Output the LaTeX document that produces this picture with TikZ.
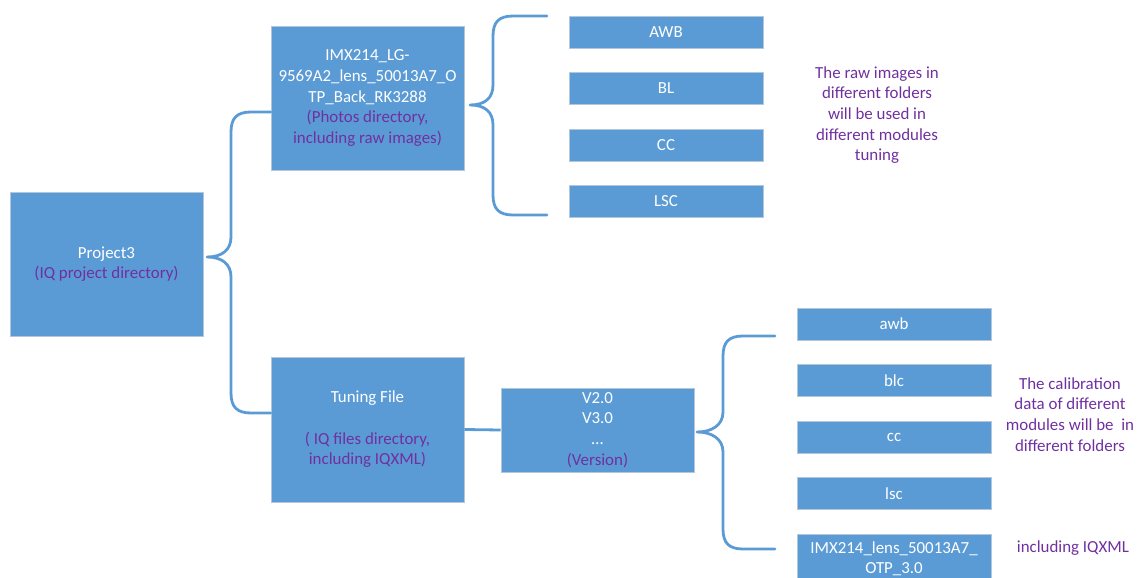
\documentclass[tikz,border=0pt]{standalone}
\usepackage{fontspec}
\setmainfont{Carlito}
\definecolor{boxblue}{HTML}{5B9BD5}
\definecolor{brblue}{HTML}{5B9BD5}
\definecolor{purp}{HTML}{7030A0}
\definecolor{edge}{HTML}{B4C6DA}
\tikzset{
  box/.style={rectangle, fill=boxblue, draw=edge, line width=0.8pt, text=white,
    inner sep=0pt, align=center, font=\fontsize{16.9}{20.7}\selectfont},
  bigbox/.style={box, minimum width=193pt, minimum height=144pt},
  smallbox/.style={box, minimum width=194pt, minimum height=32pt},
  note/.style={text=purp, align=center, inner sep=0pt, font=\fontsize{16.9}{20.7}\selectfont},
  brace/.style={draw=brblue, line width=2.8pt, line cap=round, line join=round},
}
\begin{document}
\begin{tikzpicture}[x=1pt,y=-1pt]
\useasboundingbox (0,0) rectangle (1143,578);
\clip (0,0) rectangle (1143,578);
% main boxes
\node[bigbox] (proj) at (106.5,264) {Project3\\\textcolor{purp}{(IQ project directory)}};
\node[bigbox] (photos) at (367.5,98) {IMX214\_LG-\\9569A2\_lens\_50013A7\_O\\TP\_Back\_RK3288\\\textcolor{purp}{(Photos directory,}\\\textcolor{purp}{including raw images)}};
\node[bigbox, minimum height=145pt] (tuning) at (367.5,429.5) {Tuning File\\[20.7pt]\textcolor{purp}{( IQ files directory,}\\\textcolor{purp}{including IQXML)}};
\node[box, minimum width=193pt, minimum height=84pt] (ver) at (597.5,430) {V2.0\\V3.0\\\dots\\\textcolor{purp}{(Version)}};
% raw image folders
\node[smallbox] (AWB) at (666,32) {AWB};
\node[smallbox] (BL) at (666,88.5) {BL};
\node[smallbox] (CC) at (666,145) {CC};
\node[smallbox] (LSC) at (666,201.5) {LSC};
% calibration folders
\node[smallbox] (awb) at (894,324) {awb};
\node[smallbox] (blc) at (894,380.5) {blc};
\node[smallbox] (cc) at (894,437.5) {cc};
\node[smallbox] (lsc) at (894,493.5) {lsc};
\node[smallbox, minimum height=49pt, anchor=north] (imx) at (894,534) {IMX214\_lens\_50013A7\_\\OTP\_3.0};
% notes
\node[note] (rawnote) at (877,115) {The raw images in\\different folders\\will be used in\\different modules\\tuning};
\node[note] (calnote) at (1070,414.5) {The calibration\\data of different\\modules will be\ \ in\\different folders};
\node[note] (iqnote) at (1073,548) {including IQXML};
% brace coordinates
\coordinate (t1) at (207,257);
\coordinate (t2) at (470,105);
\coordinate (t3) at (697,432);
% brace 1: project -> photos / tuning
\draw[brace] (photos.west |- 0,112) -- (251,112) .. controls (237,112) and (231,118) .. (231,132)
  -- (231,237) .. controls (231,250) and (222,257) .. (t1)
  .. controls (222,257) and (231,264) .. (231,277)
  -- (231,393) .. controls (231,407) and (237,413) .. (251,413) -- (tuning.west |- 0,413);
% brace 2: photos -> folders
\draw[brace] (547,16) -- (513,16) .. controls (499,16) and (493,22) .. (493,36)
  -- (493,85) .. controls (493,98) and (485,105) .. (t2)
  .. controls (485,105) and (493,112) .. (493,125)
  -- (493,195) .. controls (493,209) and (499,215) .. (513,215) -- (547,215);
% brace 3: version -> calibration folders
\draw[brace] (775,336) -- (743,336) .. controls (729,336) and (723,342) .. (723,356)
  -- (723,412) .. controls (723,425) and (712,432) .. (t3)
  .. controls (712,432) and (723,439) .. (723,452)
  -- (723,529) .. controls (723,543) and (729,549) .. (743,549) -- (775,549);
% tuning -> version
\draw[brace, line cap=butt] (tuning.east) -- (ver.west);
\end{tikzpicture}
\end{document}
